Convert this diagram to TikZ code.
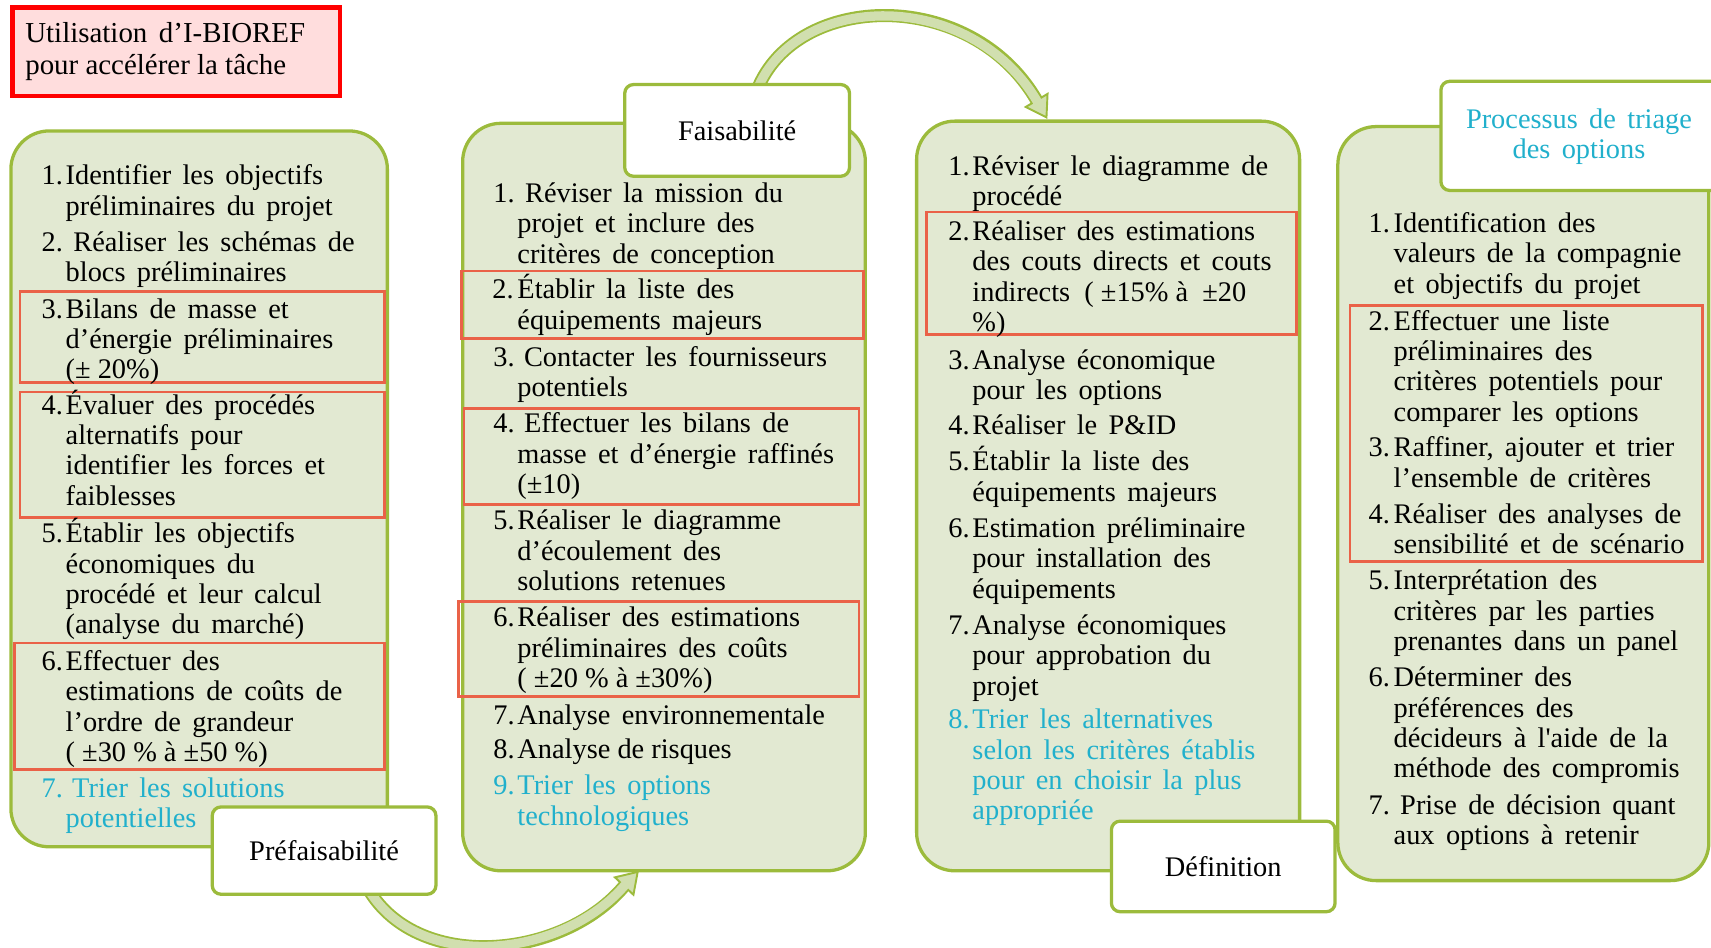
\documentclass[tikz,border=0pt]{standalone}
\usepackage{fontspec}
\setmainfont[WordSpace=1.6]{Liberation Serif}
\usetikzlibrary{shadows}
\definecolor{pfill}{RGB}{226,233,210}
\definecolor{pgreen}{RGB}{156,187,60}
\definecolor{pred}{RGB}{234,98,72}
\definecolor{tred}{RGB}{255,0,0}
\definecolor{tfill}{RGB}{255,221,221}
\definecolor{pcyan}{RGB}{33,176,204}
\definecolor{afill}{RGB}{209,223,175}
\newcommand{\fs}{\fontsize{26}{27.8}\selectfont}
\newcommand{\fst}{\fontsize{26.5}{29.7}\selectfont}
\newcommand{\lns}[1]{\begin{tabular}[t]{@{}l@{}}#1\end{tabular}}
\newcommand{\nsp}{\hspace{0.25em}}
\begin{document}
\begin{tikzpicture}[x=1pt,y=-1pt,
  panel/.style={draw=pgreen, fill=pfill, line width=3pt, rounded corners=35pt, anchor=north west, inner sep=0pt, outer sep=0pt},
  lab/.style={draw=pgreen, fill=white, line width=3pt, rounded corners=8pt, anchor=north west, inner sep=0pt, font=\fs},
  redbox/.style={draw=pred, line width=2.5pt, anchor=north west, inner sep=0pt},
  titlebox/.style={draw=tred, fill=tfill, line width=4pt, anchor=north west, inner sep=0pt,
     drop shadow={opacity=0.35, shadow xshift=2pt, shadow yshift=-2pt}},
  num/.style={anchor=base west, inner sep=0pt, font=\fs},
  itm/.style={anchor=base west, inner sep=0pt, font=\fs},
  cy/.style={text=pcyan},
  arrowout/.style={draw=pgreen, line width=12pt},
  arrowin/.style={draw=afill, line width=8.5pt, shorten >=-3pt},
  arrowhead/.style={fill=afill, draw=pgreen, line width=1.75pt, line join=miter},
]
\useasboundingbox (0,0) rectangle (1568,868);

% ---------- curved arrows ----------
\coordinate (a1s) at (336,812);
\coordinate (a1e) at (572,812);
\coordinate (a1t) at (584.4,799);
\coordinate (a1b1) at (580.5,820);
\coordinate (a1b2) at (563.5,804);
\draw[arrowout] (a1s) .. controls (380,892) and (515,880) .. (a1e);
\draw[arrowhead] (a1b1) -- (a1t) -- (a1b2) -- cycle;
\draw[arrowin] (a1s) .. controls (380,892) and (515,880) .. (a1e);

\coordinate (a2s) at (694,82);
\coordinate (a2e) at (950,92);
\coordinate (a2t) at (959,107.6);
\coordinate (a2b1) at (960,86);
\coordinate (a2b2) at (940,98);
\draw[arrowout] (a2s) .. controls (730,-8) and (890,-12) .. (a2e);
\draw[arrowhead] (a2b1) -- (a2t) -- (a2b2) -- cycle;
\draw[arrowin] (a2s) .. controls (730,-8) and (890,-12) .. (a2e);

% ---------- title ----------
\node[titlebox, minimum width=300pt, minimum height=81pt] (title) at (9.5,5) {};
\node[itm, font=\fst] (titletxt) at (23,39) {\lns{Utilisation d’I-BIOREF\\pour\nsp accélérer\nsp la\nsp tâche}};

% ---------- panels ----------
\node[panel, minimum width=345pt, minimum height=656pt] (p1) at (10,120) {};
\node[panel, minimum width=369pt, minimum height=685pt] (p2) at (424,113) {};
\node[panel, minimum width=351pt, minimum height=687pt] (p3) at (840,111) {};
\node[panel, minimum width=340pt, minimum height=691pt] (p4) at (1226,116) {};

% ---------- red boxes ----------
\node[redbox, minimum width=334pt, minimum height=83pt] (r1) at (17,266) {};
\node[redbox, minimum width=334pt, minimum height=115pt] (r2) at (17,358) {};
\node[redbox, minimum width=339pt, minimum height=116pt] (r3) at (12,588) {};
\node[redbox, minimum width=368pt, minimum height=62pt] (r4) at (422,247) {};
\node[redbox, minimum width=362pt, minimum height=88pt] (r5) at (424,373) {};
\node[redbox, minimum width=367pt, minimum height=87pt] (r6) at (419,550) {};
\node[redbox, minimum width=339pt, minimum height=112pt] (r7) at (848,193) {};
\node[redbox, minimum width=323pt, minimum height=234pt] (r8) at (1236,279) {};

% ---------- panel 1 ----------
\node[num] (p1n1) at (38,169.5) {1.};
\node[itm] (p1t1) at (60,169.5) {\lns{Identifier les objectifs\\préliminaires du projet}};
\node[num] (p1n2) at (38,230.5) {2.};
\node[itm] (p1t2) at (60,230.5) {\lns{\hspace{7pt}Réaliser les schémas de\\blocs préliminaires}};
\node[num] (p1n3) at (38,291.5) {3.};
\node[itm] (p1t3) at (60,291.5) {\lns{Bilans de masse et\\d’énergie préliminaires\\(±\nsp 20\%)}};
\node[num] (p1n4) at (38,379.5) {4.};
\node[itm] (p1t4) at (60,379.5) {\lns{Évaluer des procédés\\alternatifs pour\\identifier les forces et\\faiblesses}};
\node[num] (p1n5) at (38,497.5) {5.};
\node[itm] (p1t5) at (60,497.5) {\lns{Établir les objectifs\\économiques du\\procédé et leur calcul\\(analyse du marché)}};
\node[num] (p1n6) at (38,614.5) {6.};
\node[itm] (p1t6) at (60,614.5) {\lns{Effectuer des\\estimations de coûts de\\l’ordre de grandeur\\(\nsp±30\nsp\%\nsp à\nsp±50\nsp\%)}};
\node[num, cy] (p1n7) at (38,730.5) {7.};
\node[itm, cy] (p1t7) at (60,730.5) {\lns{\hspace{6pt}Trier les solutions\\potentielles}};

% ---------- panel 2 ----------
\node[num] (p2n1) at (452,185.5) {1.};
\node[itm] (p2t1) at (474,185.5) {\lns{\hspace{7pt}Réviser la mission du\\projet et inclure des\\critères de conception}};
\node[num] (p2n2) at (451,274) {2.};
\node[itm] (p2t2) at (474,274) {\lns{Établir la liste des\\équipements majeurs}};
\node[num] (p2n3) at (452,335.5) {3.};
\node[itm] (p2t3) at (474,335.5) {\lns{\hspace{6pt}Contacter les fournisseurs\\potentiels}};
\node[num] (p2n4) at (452,396.5) {4.};
\node[itm] (p2t4) at (474,396.5) {\lns{\hspace{6pt}Effectuer les bilans de\\masse et d’énergie raffinés\\(±10)}};
\node[num] (p2n5) at (452,485.5) {5.};
\node[itm] (p2t5) at (474,485.5) {\lns{Réaliser le diagramme\\d’écoulement des\\solutions retenues}};
\node[num] (p2n6) at (452,574.5) {6.};
\node[itm] (p2t6) at (474,574.5) {\lns{Réaliser des estimations\\préliminaires des coûts\\(\nsp±20\nsp\%\nsp à\nsp±30\%)}};
\node[num] (p2n7) at (452,663.5) {7.};
\node[itm] (p2t7) at (474,663.5) {Analyse environnementale};
\node[num] (p2n8) at (452,695.5) {8.};
\node[itm] (p2t8) at (474,695.5) {Analyse\nsp de\nsp risques};
\node[num, cy] (p2n9) at (452,728.5) {9.};
\node[itm, cy] (p2t9) at (474,728.5) {\lns{Trier les options\\technologiques}};

% ---------- panel 3 ----------
\node[num] (p3n1) at (869,160.5) {1.};
\node[itm] (p3t1) at (891,160.5) {\lns{Réviser le diagramme de\\procédé}};
\node[num] (p3n2) at (869,220.5) {2.};
\node[itm] (p3t2) at (891,220.5) {\lns{Réaliser des estimations\\des couts directs et couts\\indirects\nsp\nsp(\nsp±15\%\nsp à\nsp\nsp±20\\\%)}};
\node[num] (p3n3) at (869,338.5) {3.};
\node[itm] (p3t3) at (891,338.5) {\lns{Analyse économique\\pour les options}};
\node[num] (p3n4) at (869,398.5) {4.};
\node[itm] (p3t4) at (891,398.5) {Réaliser le P\&ID};
\node[num] (p3n5) at (869,431.5) {5.};
\node[itm] (p3t5) at (891,431.5) {\lns{Établir la liste des\\équipements majeurs}};
\node[num] (p3n6) at (869,492.5) {6.};
\node[itm] (p3t6) at (891,492.5) {\lns{Estimation préliminaire\\pour installation des\\équipements}};
\node[num] (p3n7) at (869,581.5) {7.};
\node[itm] (p3t7) at (891,581.5) {\lns{Analyse économiques\\pour approbation du\\projet}};
\node[num, cy] (p3n8) at (869,668) {8.};
\node[itm, cy] (p3t8) at (891,668) {\lns{Trier les alternatives\\selon les critères établis\\pour en choisir la plus\\appropriée}};

% ---------- panel 4 ----------
\node[num] (p4n1) at (1254,213) {1.};
\node[itm] (p4t1) at (1277,213) {\lns{Identification des\\valeurs de la compagnie\\et objectifs du projet}};
\node[num] (p4n2) at (1254,302.5) {2.};
\node[itm] (p4t2) at (1277,302.5) {\lns{Effectuer une liste\\préliminaires des\\critères potentiels pour\\comparer les options}};
\node[num] (p4n3) at (1254,418.5) {3.};
\node[itm] (p4t3) at (1277,418.5) {\lns{Raffiner, ajouter et trier\\l’ensemble de critères}};
\node[num] (p4n4) at (1254,479.5) {4.};
\node[itm] (p4t4) at (1277,479.5) {\lns{Réaliser des analyses de\\sensibilité et de scénario}};
\node[num] (p4n5) at (1254,540.5) {5.};
\node[itm] (p4t5) at (1277,540.5) {\lns{Interprétation des\\critères par les parties\\prenantes dans un panel}};
\node[num] (p4n6) at (1254,629.5) {6.};
\node[itm] (p4t6) at (1277,629.5) {\lns{Déterminer des\\préférences des\\décideurs à l\textquotesingle aide de la\\méthode des compromis}};
\node[num] (p4n7) at (1254,746.5) {7.};
\node[itm] (p4t7) at (1277,746.5) {\lns{\hspace{6pt}Prise de décision quant\\aux options à retenir}};

% ---------- labels ----------
\node[lab, minimum width=205pt, minimum height=80pt] (l1) at (193,738) {Préfaisabilité};
\node[lab, minimum width=206pt, minimum height=84pt] (l2) at (571,76) {Faisabilité};
\node[lab, minimum width=205pt, minimum height=83pt] (l3) at (1017,751) {Définition};
\node[lab, minimum width=256pt, minimum height=100pt] (l4) at (1319,73) {};
\node[anchor=base, inner sep=0pt, font=\fs, text=pcyan] (l4t) at (1447,117.6) {Processus de triage};
\node[anchor=base, inner sep=0pt, font=\fs, text=pcyan] (l4t2) at (1447,145.2) {des options};
\end{tikzpicture}
\end{document}
